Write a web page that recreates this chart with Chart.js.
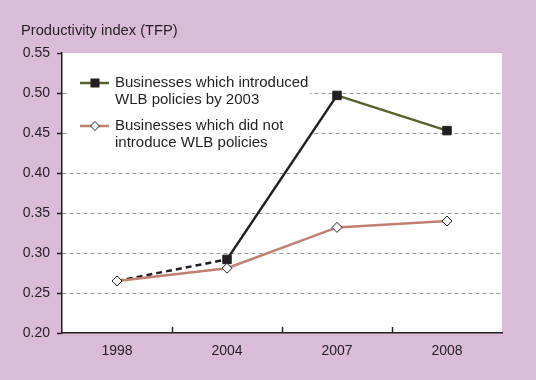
<!DOCTYPE html>
<html>
<head>
<meta charset="utf-8">
<script src="https://cdn.jsdelivr.net/npm/chart.js@4/dist/chart.umd.min.js"></script>
<style>
  html, body { margin: 0; padding: 0; background: #dbbcd8; }
  #wrap { width: 536px; height: 380px; }
</style>
</head>
<body>
<div id="wrap"><canvas id="c" width="536" height="380"></canvas></div>
<script>
const categories = ['1998', '2004', '2007', '2008'];
const introducedWLB = [0.265, 0.292, 0.497, 0.453];
const notIntroducedWLB = [0.265, 0.281, 0.332, 0.340];
const yTitle = 'Productivity index (TFP)';
const legendA = ['Businesses which introduced', 'WLB policies by 2003'];
const legendB = ['Businesses which did not', 'introduce WLB policies'];

const DARK = '#231f20';
const GREEN = '#55632f';
const SALMON = '#bf8070';
const FONT = '"Liberation Sans", Arial, Helvetica, sans-serif';

const decor = {
  id: 'decor',
  beforeDraw(chart) {
    const { ctx, chartArea: a } = chart;
    ctx.save();
    ctx.fillStyle = '#ffffff';
    ctx.fillRect(a.left, a.top, a.right - a.left, a.bottom - a.top);
    ctx.fillStyle = DARK;
    ctx.font = '14.7px ' + FONT;
    ctx.textBaseline = 'middle';
    ctx.textAlign = 'left';
    ctx.fillText(yTitle, 21, 31);
    ctx.restore();
  },
  beforeDatasetsDraw(chart) {
    const { ctx } = chart;
    const x = chart.scales.x;
    const a = chart.chartArea;
    ctx.save();
    // legend box
    ctx.fillStyle = '#ffffff';
    ctx.fillRect(69, 68, 241, 88);
    // inward ticks on x axis at category boundaries
    ctx.strokeStyle = DARK;
    ctx.lineWidth = 1.5;
    for (let i = 0; i < categories.length - 1; i++) {
      const px = Math.round((x.getPixelForTick(i) + x.getPixelForTick(i + 1)) / 2) + 0.5;
      ctx.beginPath();
      ctx.moveTo(px, a.bottom);
      ctx.lineTo(px, a.bottom - 6);
      ctx.stroke();
    }
    ctx.restore();
  },
  afterDatasetsDraw(chart) {
    const { ctx } = chart;
    ctx.save();
    // entry A
    ctx.lineWidth = 2.5;
    ctx.strokeStyle = GREEN;
    ctx.beginPath(); ctx.moveTo(80, 83); ctx.lineTo(109, 83); ctx.stroke();
    ctx.fillStyle = DARK;
    ctx.fillRect(90.5, 78.5, 9, 9);
    // entry B
    ctx.strokeStyle = SALMON;
    ctx.beginPath(); ctx.moveTo(80, 126); ctx.lineTo(109, 126); ctx.stroke();
    ctx.fillStyle = '#ffffff';
    ctx.strokeStyle = DARK;
    ctx.lineWidth = 1;
    ctx.beginPath();
    ctx.moveTo(95, 121.5); ctx.lineTo(99.5, 126); ctx.lineTo(95, 130.5); ctx.lineTo(90.5, 126); ctx.closePath();
    ctx.fill(); ctx.stroke();
    ctx.fillStyle = DARK;
    ctx.font = '15px ' + FONT;
    ctx.textBaseline = 'middle';
    ctx.textAlign = 'left';
    ctx.fillText(legendA[0], 115, 83);
    ctx.fillText(legendA[1], 115, 100);
    ctx.fillText(legendB[0], 115, 126);
    ctx.fillText(legendB[1], 115, 143);
    ctx.restore();
  }
};

new Chart(document.getElementById('c'), {
  type: 'line',
  data: {
    labels: categories,
    datasets: [
      {
        label: legendB.join(' '),
        data: notIntroducedWLB,
        borderColor: SALMON,
        borderWidth: 2.5,
        pointStyle: 'rectRot',
        pointRadius: 5,
        pointBackgroundColor: '#ffffff',
        pointBorderColor: DARK,
        pointBorderWidth: 1,
        tension: 0,
        order: 1
      },
      {
        label: legendA.join(' '),
        data: introducedWLB,
        borderColor: DARK,
        borderWidth: 2.5,
        pointStyle: 'rect',
        pointRadius: [0, 6, 6, 6],
        pointBackgroundColor: DARK,
        pointBorderColor: DARK,
        pointBorderWidth: 1,
        tension: 0,
        order: 2,
        segment: {
          borderColor: c => c.p0DataIndex >= 2 ? GREEN : DARK,
          borderDash: c => c.p0DataIndex === 0 ? [6, 4] : []
        }
      }
    ]
  },
  options: {
    responsive: false,
    animation: false,
    devicePixelRatio: 1,
    layout: { padding: { left: 0, top: 53, right: 34, bottom: 0 } },
    plugins: { legend: { display: false }, tooltip: { enabled: false }, title: { display: false } },
    scales: {
      x: {
        offset: true,
        grid: { display: true, offset: true, drawOnChartArea: false, drawTicks: false },
        border: { display: true, color: DARK, width: 1.5 },
        ticks: { color: DARK, font: { family: FONT, size: 14 }, padding: 10 },
        afterFit(s) { s.height = 47; }
      },
      y: {
        min: 0.2,
        max: 0.55,
        ticks: {
          stepSize: 0.05,
          color: DARK,
          font: { family: FONT, size: 14 },
          padding: 7,
          callback: v => Number(v).toFixed(2)
        },
        grid: {
          color: c => (Math.abs(c.tick.value - 0.55) < 1e-6 || Math.abs(c.tick.value - 0.2) < 1e-6) ? 'rgba(0,0,0,0)' : '#9a9a9a',
          lineWidth: 1,
          drawTicks: true,
          tickLength: 5,
          tickColor: DARK,
          tickWidth: 1.5,
          tickBorderDash: []
        },
        border: { display: true, color: DARK, width: 1.5, dash: [4, 3] },
        afterFit(s) { s.width = 62; }
      }
    }
  },
  plugins: [decor]
});
</script>
</body>
</html>
